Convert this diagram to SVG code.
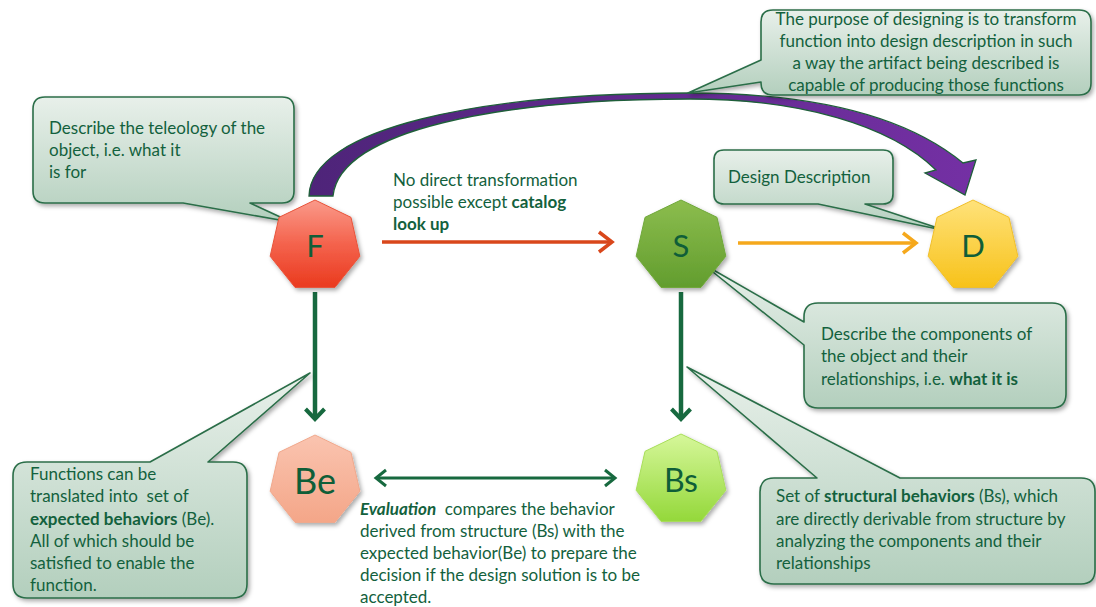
<svg xmlns="http://www.w3.org/2000/svg" width="1096" height="607" viewBox="0 0 1096 607">
  <defs>
    <style>
      .t{font-family:Lato,"Open Sans","Liberation Sans",sans-serif;font-size:17px;fill:#13613d;white-space:pre}
      .b{font-weight:bold}
      .lbl{font-family:Lato,"Open Sans","Liberation Sans",sans-serif;fill:#0f5e38;text-anchor:middle}
      .call{fill:url(#gCall);stroke:#2b6e48;stroke-width:1.6;stroke-linejoin:round;filter:url(#sh)}
      .hep{stroke-width:1;filter:url(#sh)}
      .line{fill:none;stroke-linecap:butt}
    </style>
    <filter id="sh" x="-20%" y="-20%" width="140%" height="140%">
      <feDropShadow dx="2" dy="2.5" stdDeviation="2" flood-color="#000" flood-opacity="0.33"/>
    </filter>
    <linearGradient id="gCall" x1="0" y1="0" x2="0" y2="1">
      <stop offset="0" stop-color="#e8f0ea"/>
      <stop offset="1" stop-color="#b3cfbd"/>
    </linearGradient>
    <linearGradient id="gF" x1="0" y1="0" x2="0" y2="1">
      <stop offset="0" stop-color="#fa9a8a"/>
      <stop offset="0.5" stop-color="#f4634d"/>
      <stop offset="1" stop-color="#ea3a1e"/>
    </linearGradient>
    <linearGradient id="gS" x1="0" y1="0" x2="0" y2="1">
      <stop offset="0" stop-color="#8cbd4e"/>
      <stop offset="1" stop-color="#629d2e"/>
    </linearGradient>
    <linearGradient id="gD" x1="0" y1="0" x2="0" y2="1">
      <stop offset="0" stop-color="#ffe27a"/>
      <stop offset="1" stop-color="#f7c21a"/>
    </linearGradient>
    <linearGradient id="gBe" x1="0" y1="0" x2="0" y2="1">
      <stop offset="0" stop-color="#fac4b0"/>
      <stop offset="1" stop-color="#f4a688"/>
    </linearGradient>
    <linearGradient id="gBs" x1="0" y1="0" x2="0" y2="1">
      <stop offset="0" stop-color="#d6f79a"/>
      <stop offset="1" stop-color="#94d83a"/>
    </linearGradient>
    <linearGradient id="gArc" x1="0" y1="0" x2="1" y2="0">
      <stop offset="0" stop-color="#4e2479"/>
      <stop offset="1" stop-color="#7430a4"/>
    </linearGradient>
    <!-- heptagon of radius 46 around the origin -->
    <polygon id="hep" points="0,-46 35.96,-28.68 44.85,10.24 19.96,41.45 -19.96,41.45 -44.85,10.24 -35.96,-28.68"/>
    <marker id="mGreen" viewBox="-16 -14 20 28" refX="0" refY="0" markerWidth="20" markerHeight="28" markerUnits="userSpaceOnUse" orient="auto-start-reverse">
      <path d="M-10,-9.5 L0,0 L-10,9.5" fill="none" stroke="#17693f" stroke-width="4"/>
    </marker>
    <marker id="mGreenThin" viewBox="-16 -14 20 28" refX="0" refY="0" markerWidth="20" markerHeight="28" markerUnits="userSpaceOnUse" orient="auto-start-reverse">
      <path d="M-10,-8 L0,0 L-10,8" fill="none" stroke="#17693f" stroke-width="3"/>
    </marker>
    <marker id="mRed" viewBox="-18 -14 22 28" refX="0" refY="0" markerWidth="22" markerHeight="28" markerUnits="userSpaceOnUse" orient="auto">
      <path d="M-13,-10 L0,0 L-13,10" fill="none" stroke="#d9471b" stroke-width="3.5"/>
    </marker>
    <marker id="mOrange" viewBox="-18 -14 22 28" refX="0" refY="0" markerWidth="22" markerHeight="28" markerUnits="userSpaceOnUse" orient="auto">
      <path d="M-13,-10 L0,0 L-13,10" fill="none" stroke="#f5a81c" stroke-width="3.5"/>
    </marker>
  </defs>

  <rect width="1096" height="607" fill="#ffffff"/>

  <!-- connectors -->
  <g id="connectors">
    <path id="arc-F-D" d="M309,196 C311,128 480,93 690,93 C810,93 905,115 963,163 L976,160 L965,195 L925,173 L936,170 C890,125 800,99 690,99 C500,99 340,130 333,196 Z" fill="url(#gArc)" stroke="#1f5f3a" stroke-width="1.3" stroke-linejoin="miter"/>
    <line class="line" x1="382" y1="242" x2="612" y2="242" stroke="#d9471b" stroke-width="3.5" marker-end="url(#mRed)"/>
    <line class="line" x1="738" y1="243" x2="916" y2="243" stroke="#f5a81c" stroke-width="3.5" marker-end="url(#mOrange)"/>
    <line class="line" x1="315" y1="292" x2="315" y2="419" stroke="#17693f" stroke-width="4.5" marker-end="url(#mGreen)"/>
    <line class="line" x1="681" y1="292" x2="681" y2="419" stroke="#17693f" stroke-width="4.5" marker-end="url(#mGreen)"/>
    <line class="line" x1="376" y1="478" x2="615" y2="478" stroke="#17693f" stroke-width="3" marker-start="url(#mGreenThin)" marker-end="url(#mGreenThin)"/>
  </g>

  <!-- callouts -->
  <g id="note-teleology">
    <path class="call" d="M45,97 H282 Q294,97 294,109 V191 Q294,203 282,203 H250 L291,222 L183,203 H45 Q33,203 33,191 V109 Q33,97 45,97 Z"/>
    <text class="t" x="49" y="134">Describe the teleology of the</text>
    <text class="t" x="49" y="156">object, i.e. what it</text>
    <text class="t" x="49" y="178">is for</text>
  </g>

  <g id="note-purpose">
    <path class="call" d="M773,10 H1079 Q1091,10 1091,22 V83 Q1091,95 1079,95 H773 Q761,95 761,83 V82 L688,93 L761,60 V22 Q761,10 773,10 Z"/>
    <text class="t" x="926" y="25" text-anchor="middle">The purpose of designing is to transform</text>
    <text class="t" x="926" y="47" text-anchor="middle">function into design description in such</text>
    <text class="t" x="926" y="69" text-anchor="middle">a way the artifact being described is</text>
    <text class="t" x="926" y="91" text-anchor="middle">capable of producing those functions</text>
  </g>

  <g id="note-design-description">
    <path class="call" d="M724,150 H883 Q893,150 893,160 V194 Q893,204 883,204 H865 L947,231 L818,204 H724 Q714,204 714,194 V160 Q714,150 724,150 Z"/>
    <text class="t" x="728" y="183">Design Description</text>
  </g>

  <g id="note-components">
    <path class="call" d="M818,303 H1052 Q1066,303 1066,317 V394 Q1066,408 1052,408 H818 Q804,408 804,394 V345 L703,264 L804,322 V317 Q804,303 818,303 Z"/>
    <text class="t" x="821" y="340">Describe the components of</text>
    <text class="t" x="821" y="362">the object and their</text>
    <text class="t" x="821" y="385">relationships, i.e. <tspan class="b">what it is</tspan></text>
  </g>

  <g id="note-structural">
    <path class="call" d="M774,478 H817 L687,367 L900,478 H1081 Q1095,478 1095,492 V570 Q1095,584 1081,584 H774 Q760,584 760,570 V492 Q760,478 774,478 Z"/>
    <text class="t" x="776" y="502">Set of <tspan class="b">structural behaviors</tspan> (Bs), which</text>
    <text class="t" x="776" y="525">are directly derivable from structure by</text>
    <text class="t" x="776" y="547">analyzing the components and their</text>
    <text class="t" x="776" y="569">relationships</text>
  </g>

  <g id="note-functions">
    <path class="call" d="M27,462 H150 L310,373 L208,462 H233 Q247,462 247,476 V584 Q247,598 233,598 H27 Q13,598 13,584 V476 Q13,462 27,462 Z"/>
    <text class="t" x="30" y="480">Functions can be</text>
    <text class="t" x="30" y="502">translated into  set of</text>
    <text class="t" x="30" y="525"><tspan class="b">expected behaviors</tspan> (Be).</text>
    <text class="t" x="30" y="547">All of which should be</text>
    <text class="t" x="30" y="569">satisfied to enable the</text>
    <text class="t" x="30" y="591">function.</text>
  </g>

  <!-- free labels -->
  <g id="label-catalog">
    <text class="t" x="393" y="186">No direct transformation</text>
    <text class="t" x="393" y="208">possible except <tspan class="b">catalog</tspan></text>
    <text class="t" x="393" y="230"><tspan class="b">look up</tspan></text>
  </g>

  <g id="label-evaluation">
    <text class="t" x="360" y="515"><tspan class="b" font-style="italic">Evaluation</tspan>  compares the behavior</text>
    <text class="t" x="360" y="537">derived from structure (Bs) with the</text>
    <text class="t" x="360" y="559">expected behavior(Be) to prepare the</text>
    <text class="t" x="360" y="581">decision if the design solution is to be</text>
    <text class="t" x="360" y="603">accepted.</text>
  </g>

  <!-- heptagon nodes -->
  <g id="node-F">
    <use href="#hep" class="hep" transform="translate(315,246)" fill="url(#gF)" stroke="#e8533a"/>
    <text class="lbl" x="315" y="257" font-size="31">F</text>
  </g>
  <g id="node-S">
    <use href="#hep" class="hep" transform="translate(681,246)" fill="url(#gS)" stroke="#6fa83a"/>
    <text class="lbl" x="681" y="257" font-size="31">S</text>
  </g>
  <g id="node-D">
    <use href="#hep" class="hep" transform="translate(973,246)" fill="url(#gD)" stroke="#f0bf2a"/>
    <text class="lbl" x="973" y="257" font-size="31">D</text>
  </g>
  <g id="node-Be">
    <use href="#hep" class="hep" transform="translate(315,481)" fill="url(#gBe)" stroke="#f0a88c"/>
    <text class="lbl" x="315" y="494" font-size="36">Be</text>
  </g>
  <g id="node-Bs">
    <use href="#hep" class="hep" transform="translate(681,480)" fill="url(#gBs)" stroke="#a8de5a"/>
    <text class="lbl" x="681" y="492" font-size="32">Bs</text>
  </g>
</svg>
